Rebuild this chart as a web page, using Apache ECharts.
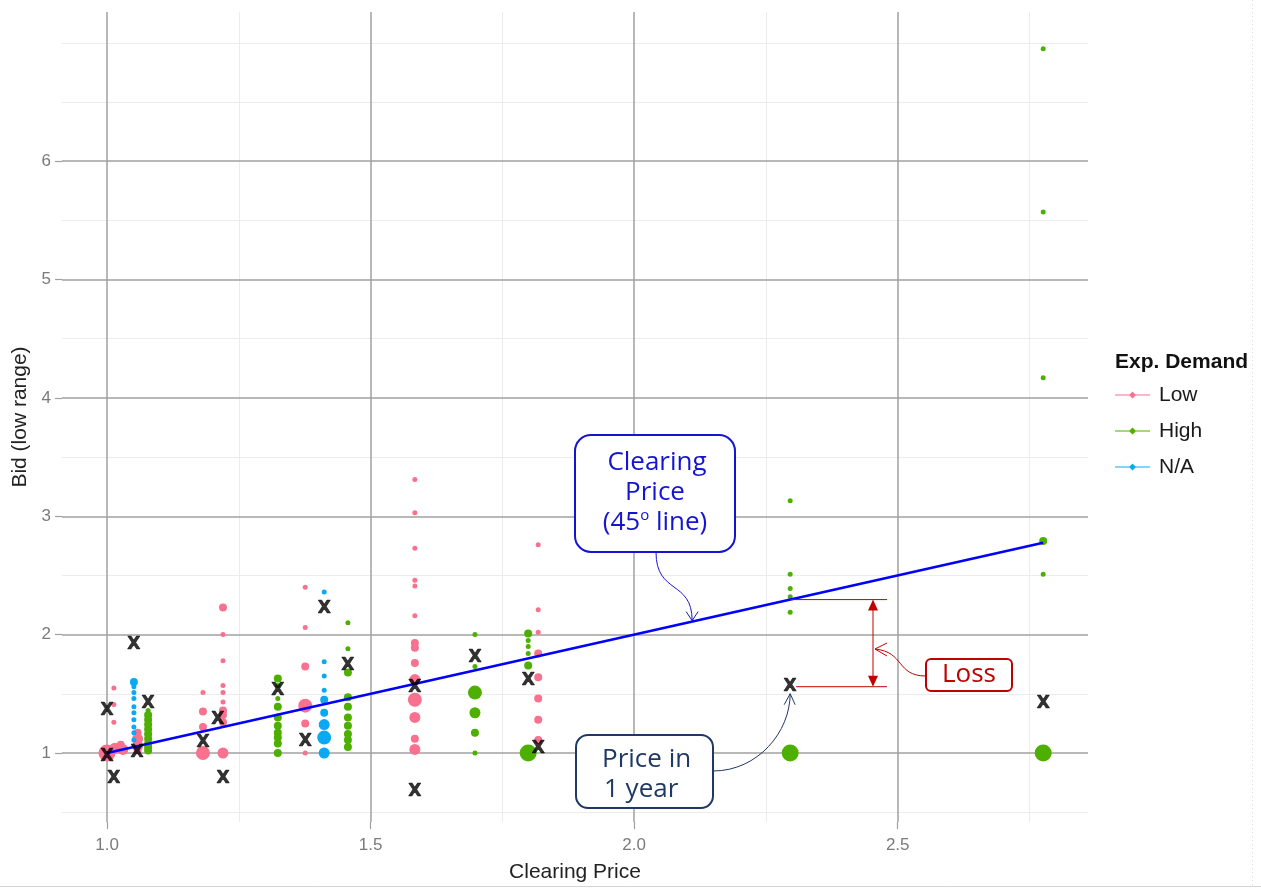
<!DOCTYPE html>
<html><head><meta charset="utf-8">
<script src="https://cdn.jsdelivr.net/npm/echarts@6/dist/echarts.min.js"></script>
<style>html,body{margin:0;padding:0;background:#fff}#chart{width:1261px;height:888px}</style>
</head><body><div id="chart"></div>
<script>
// ---- axis ticks / gridlines ----
const xTicks = [1.0, 1.5, 2.0, 2.5];
const yTicks = [1, 2, 3, 4, 5, 6];
const xMinor = [1.25, 1.75, 2.25, 2.75];
const yMinor = [0.5, 1.5, 2.5, 3.5, 4.5, 5.5, 6.5, 7.0];
const xRange = [0.9146, 2.861];
const yRange = [0.417, 7.26];

// ---- data: [clearing price, bid, size class] ----
const lowPoints = [
  [1.0,1.0,5],[1.015,1.04,3],[1.026,1.07,2],[1.03,1.03,3],
  [1.013,1.55,1],[1.013,1.41,1],[1.013,1.26,1],
  [1.058,1.17,2],[1.058,1.12,3],[1.058,1.06,3],[1.058,1.02,2],
  [1.182,1.51,1],[1.182,1.35,2],[1.182,1.22,2],[1.182,1.0,4],
  [1.22,2.23,2],[1.22,2.0,1],[1.22,1.78,1],[1.22,1.57,1],[1.22,1.51,1],[1.22,1.43,1],[1.22,1.36,2],[1.22,1.32,2],[1.22,1.26,2],[1.22,1.0,3],
  [1.376,2.40,1],[1.376,2.06,1],[1.376,1.73,2],[1.376,1.40,4],[1.376,1.25,2],[1.376,1.0,1],
  [1.584,3.31,1],[1.584,3.03,1],[1.584,2.73,1],[1.584,2.46,1],[1.584,2.41,1],[1.584,2.16,1],[1.584,1.93,2],[1.584,1.89,2],[1.584,1.76,2],[1.584,1.62,3],[1.584,1.45,4],[1.584,1.30,3],[1.584,1.12,2],[1.584,1.03,3],
  [1.818,2.76,1],[1.818,2.21,1],[1.818,2.02,1],[1.818,1.84,2],[1.818,1.64,2],[1.818,1.46,2],[1.818,1.28,2],[1.818,1.11,2]
];
const highPoints = [
  [1.078,1.36,1],[1.078,1.32,2],[1.078,1.28,2],[1.078,1.24,2],[1.078,1.20,2],[1.078,1.16,2],[1.078,1.12,2],[1.078,1.08,2],[1.078,1.05,2],[1.078,1.02,2],
  [1.324,1.63,2],[1.324,1.57,1],[1.324,1.46,1],[1.324,1.39,2],[1.324,1.30,2],[1.324,1.23,2],[1.324,1.17,2],[1.324,1.13,2],[1.324,1.08,2],[1.324,1.0,2],
  [1.457,2.10,1],[1.457,1.88,1],[1.457,1.68,2],[1.457,1.47,2],[1.457,1.39,2],[1.457,1.30,2],[1.457,1.23,2],[1.457,1.16,2],[1.457,1.11,2],[1.457,1.05,2],
  [1.698,2.0,1],[1.698,1.73,1],[1.698,1.51,4],[1.698,1.34,3],[1.698,1.17,2],[1.698,1.0,1],
  [1.799,2.01,2],[1.799,1.95,1],[1.799,1.90,1],[1.799,1.84,1],[1.799,1.74,2],[1.799,1.0,5],
  [2.296,3.13,1],[2.296,2.51,1],[2.296,2.39,1],[2.296,2.32,1],[2.296,2.19,1],[2.296,1.0,5],
  [2.776,6.95,1],[2.776,5.57,1],[2.776,4.17,1],[2.776,2.79,2],[2.776,2.51,1],[2.776,1.0,5]
];
const naPoints = [
  [1.051,1.60,2],[1.051,1.56,1],[1.051,1.51,1],[1.051,1.46,1],[1.051,1.39,1],[1.051,1.34,1],[1.051,1.28,1],[1.051,1.22,1],[1.051,1.17,1],[1.051,1.11,1],
  [1.412,2.36,1],[1.412,1.77,1],[1.412,1.65,1],[1.412,1.53,1],[1.412,1.45,2],[1.412,1.34,2],[1.412,1.24,3],[1.412,1.13,4],[1.412,1.0,3]
];
const priceInOneYear = [
  [1.0,1.355],[1.0,0.97],[1.013,0.78],[1.051,1.92],[1.057,1.0],[1.078,1.42],
  [1.182,1.09],[1.21,1.28],[1.22,0.78],[1.324,1.53],[1.376,1.10],[1.412,2.22],
  [1.457,1.74],[1.584,1.55],[1.584,0.67],[1.698,1.81],[1.799,1.61],[1.818,1.04],
  [2.296,1.56],[2.776,1.42]
];
const clearingLine = [[1.0,1.0],[2.776,2.776]];
const seriesNames = ['Low','High','N/A'];

const sizePx = {1:5, 2:8, 3:11, 4:14, 5:17};
const colors = {Low:'#F8718E', High:'#4DB000', 'N/A':'#0DA8F2'};
const iconPath = 'path://M0,4.4L35,4.4L35,5.6L0,5.6Z M17.5,1.5L21,5L17.5,8.5L14,5Z';
const gridMajor = {color:'#a0a0a0', width:1.5, type:'solid'};
const gridMinor = {color:'#ececec', width:1, type:'solid'};

const chart = echarts.init(document.getElementById('chart'));

function scatter(name, pts) {
  return {
    name, type:'scatter', data: pts, z: 3,
    symbol:'circle',
    symbolSize: v => sizePx[v[2]],
    itemStyle:{color: colors[name], opacity:1},
    emphasis:{disabled:true}
  };
}

const gridLineData = [
  ...xMinor.map(v => ({xAxis:v, lineStyle:gridMinor})),
  ...yMinor.map(v => ({yAxis:v, lineStyle:gridMinor})),
  ...xTicks.map(v => ({xAxis:v, lineStyle:gridMajor})),
  ...yTicks.map(v => ({yAxis:v, lineStyle:gridMajor}))
];

chart.setOption({
  animation:false,
  backgroundColor:'#fff',
  grid:{left:62, right:173, top:12, bottom:66, containLabel:false, outerBoundsMode:'none'},
  xAxis:{
    type:'value', min:xRange[0], max:xRange[1],
    name:'Clearing Price', nameLocation:'middle', nameGap:40,
    nameTextStyle:{fontSize:21, color:'#222', fontFamily:'Liberation Sans'},
    axisLine:{show:false}, splitLine:{show:false},
    axisTick:{show:true, length:7, lineStyle:{color:'#a0a0a0', width:1.2}, customValues:xTicks},
    axisLabel:{customValues:xTicks, formatter:v => v.toFixed(1), fontSize:17, color:'#7a7a7a', margin:15, fontFamily:'Liberation Sans'}
  },
  yAxis:{
    type:'value', min:yRange[0], max:yRange[1],
    name:'Bid (low range)', nameLocation:'middle', nameGap:26,
    nameTextStyle:{fontSize:21, color:'#222', fontFamily:'Liberation Sans'},
    axisLine:{show:false}, splitLine:{show:false},
    axisTick:{show:true, length:7, lineStyle:{color:'#a0a0a0', width:1.2}, customValues:yTicks},
    axisLabel:{customValues:yTicks, formatter:v => String(v), fontSize:17, color:'#7a7a7a', margin:11, fontFamily:'Liberation Sans'}
  },
  legend:{
    orient:'vertical', left:1115, top:384, padding:0, itemGap:14,
    itemWidth:35, itemHeight:10,
    textStyle:{fontSize:21, color:'#1a1a1a', fontFamily:'Liberation Sans', lineHeight:22, padding:[0,0,0,4]},
    data: seriesNames.map(n => ({name:n, icon:iconPath}))
  },
  series:[
    {name:'grid', type:'line', data:[], z:0, silent:true,
     markLine:{silent:true, z:0, zlevel:0, symbol:['none','none'], label:{show:false}, animation:false, data:gridLineData}},
    scatter('Low', lowPoints),
    scatter('High', highPoints),
    scatter('N/A', naPoints),
    {name:'Clearing Price line', type:'line', data:clearingLine, z:4, symbol:'none', silent:true,
     lineStyle:{color:'#0000FF', width:2.5}},
    {name:'Price in 1 year', type:'scatter', data:priceInOneYear, z:5, symbolSize:1, silent:true,
     itemStyle:{color:'rgba(0,0,0,0)'},
     label:{show:true, position:'inside', formatter:'X', fontSize:17, fontWeight:'bold', color:'#000',
            textBorderColor:'#000', textBorderWidth:0.6, fontFamily:'DejaVu Sans'}}
  ]
});

// ---- annotations ----
const P = p => chart.convertToPixel({gridIndex:0}, p);
const lineTip = P([2.11, 2.11]);
const lossTop = P([2.296, 2.296]);
const lossBot = P([2.296, 1.56]);
const blue = '#1414D2', navy = '#1F3864', red = '#C00000';
const afont = 'Open Sans';
function txt(x, y, text, color, align, extra) {
  return {type:'text', x, y, z:100, silent:true,
    style:Object.assign({text, fill:color, font:'26px "Open Sans"', textAlign:align, align:align,
      textVerticalAlign:'middle', verticalAlign:'middle'}, extra || {})};
}
const bx = 873;
chart.setOption({
  graphic:[
    // Clearing price callout
    {type:'rect', z:100, silent:true, shape:{x:575, y:435, width:160, height:117, r:16},
     style:{fill:'#fff', stroke:blue, lineWidth:2}},
    txt(657, 463, 'Clearing', blue, 'center'),
    txt(655, 493, 'Price', blue, 'center'),
    {type:'text', x:655, y:523, z:100, silent:true,
     style:{text:'(45{sup|o} line)', fill:blue, font:'26px "Open Sans"', textAlign:'center', align:'center',
       textVerticalAlign:'middle', verticalAlign:'middle',
       rich:{sup:{fontSize:15, fontFamily:afont, fill:blue, color:blue, verticalAlign:'top', lineHeight:30}}}},
    {type:'bezierCurve', z:100, silent:true,
     shape:{x1:656, y1:552, cpx1:656, cpy1:595, cpx2:lineTip[0], cpy2:lineTip[1]-42, x2:lineTip[0], y2:lineTip[1]-1},
     style:{stroke:blue, lineWidth:1, fill:null}},
    {type:'polyline', z:100, silent:true,
     shape:{points:[[lineTip[0]-6, lineTip[1]-10],[lineTip[0], lineTip[1]-1],[lineTip[0]+6, lineTip[1]-10]]},
     style:{stroke:blue, lineWidth:1, fill:null}},

    // Price in 1 year callout
    {type:'rect', z:100, silent:true, shape:{x:576, y:735, width:137, height:73, r:12},
     style:{fill:'#fff', stroke:navy, lineWidth:2}},
    txt(602, 760, 'Price in', navy, 'left'),
    txt(604, 790, '1 year', navy, 'left'),
    {type:'bezierCurve', z:100, silent:true,
     shape:{x1:713, y1:771, cpx1:758, cpy1:771, cpx2:lossBot[0], cpy2:lossBot[1]+45, x2:lossBot[0], y2:lossBot[1]+7},
     style:{stroke:navy, lineWidth:1, fill:null}},
    {type:'polyline', z:100, silent:true,
     shape:{points:[[lossBot[0]-6, lossBot[1]+18],[lossBot[0], lossBot[1]+7],[lossBot[0]+5, lossBot[1]+18]]},
     style:{stroke:navy, lineWidth:1, fill:null}},

    // Loss bracket
    {type:'line', z:100, silent:true, shape:{x1:lossTop[0], y1:lossTop[1], x2:887, y2:lossTop[1]}, style:{stroke:red, lineWidth:1}},
    {type:'line', z:100, silent:true, shape:{x1:lossBot[0]+6, y1:lossBot[1], x2:887, y2:lossBot[1]}, style:{stroke:red, lineWidth:1}},
    {type:'line', z:100, silent:true, shape:{x1:bx, y1:lossTop[1]+8, x2:bx, y2:lossBot[1]-8}, style:{stroke:red, lineWidth:1}},
    {type:'polygon', z:100, silent:true, shape:{points:[[bx, lossTop[1]],[bx-5, lossTop[1]+11],[bx+5, lossTop[1]+11]]}, style:{fill:red}},
    {type:'polygon', z:100, silent:true, shape:{points:[[bx, lossBot[1]],[bx-5, lossBot[1]-11],[bx+5, lossBot[1]-11]]}, style:{fill:red}},
    {type:'rect', z:100, silent:true, shape:{x:926, y:659, width:86, height:32, r:5},
     style:{fill:'#fff', stroke:red, lineWidth:2}},
    txt(969, 675, 'Loss', red, 'center'),
    {type:'bezierCurve', z:100, silent:true,
     shape:{x1:926, y1:676, cpx1:896, cpy1:676, cpx2:905, cpy2:652, x2:bx+2, y2:649},
     style:{stroke:red, lineWidth:1, fill:null}},
    {type:'polyline', z:100, silent:true,
     shape:{points:[[bx+14, 643],[bx+2, 649],[bx+14, 656]]},
     style:{stroke:red, lineWidth:1, fill:null}},

    // legend title
    {type:'text', x:1115, y:362, z:100, silent:true,
     style:{text:'Exp. Demand', fill:'#111', font:'bold 21px "Liberation Sans"', textAlign:'left', align:'left', textVerticalAlign:'middle', verticalAlign:'middle'}},
    // frame lines
    {type:'line', z:1, silent:true, shape:{x1:0, y1:886.5, x2:1261, y2:886.5}, style:{stroke:'#d4d4d4', lineWidth:1}},
    {type:'line', z:1, silent:true, shape:{x1:1252.5, y1:0, x2:1252.5, y2:886}, style:{stroke:'#dddddd', lineWidth:1, lineDash:[1,3]}}
  ]
});
</script></body></html>
